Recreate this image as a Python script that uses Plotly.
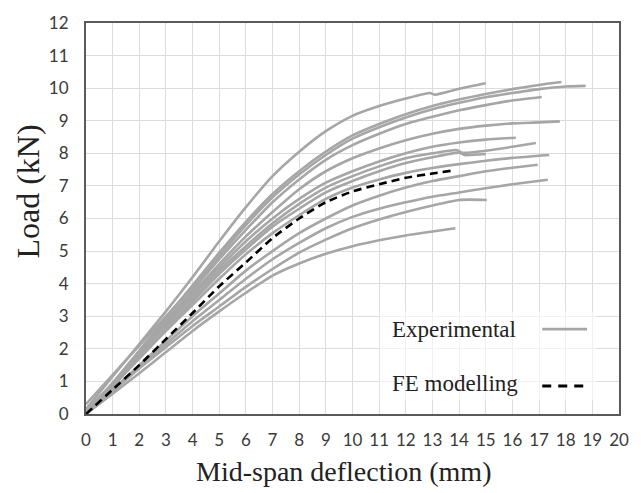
import plotly.graph_objects as go

# ---------------- data ----------------
exp_e1_x = [0, 1, 2, 3, 4, 5, 6, 7, 8, 9, 10, 11, 12, 12.9, 13.1, 14, 15]
exp_e1_y = [0.15, 1.15, 2.15, 3.15, 4.2, 5.3, 6.35, 7.3, 8.05, 8.68, 9.15, 9.45, 9.68, 9.85, 9.8, 9.98, 10.15]

exp_e2_x = [0, 1, 2, 3, 4, 5, 6, 7, 8, 9, 10, 11, 12, 13, 14, 15, 16, 17, 17.84]
exp_e2_y = [0, 0.95, 1.95, 2.95, 3.95, 4.95, 5.9, 6.75, 7.45, 8.05, 8.55, 8.9, 9.2, 9.45, 9.65, 9.82, 9.97, 10.1, 10.19]

exp_e3_x = [0, 1, 2, 3, 4, 5, 6, 7, 8, 9, 10, 11, 12, 13, 14, 15, 16, 17, 18, 18.75]
exp_e3_y = [0.3, 1.2, 2.1, 3.0, 3.9, 4.85, 5.8, 6.65, 7.35, 7.95, 8.45, 8.8, 9.1, 9.35, 9.55, 9.72, 9.85, 9.97, 10.05, 10.07]

exp_e4_x = [0, 1, 2, 3, 4, 5, 6, 7, 8, 9, 10, 11, 12, 13, 14, 15, 16, 17.1]
exp_e4_y = [0, 0.95, 1.9, 2.85, 3.8, 4.75, 5.65, 6.5, 7.2, 7.8, 8.25, 8.6, 8.9, 9.12, 9.32, 9.48, 9.62, 9.73]

exp_e5_x = [0, 1, 2, 3, 4, 5, 6, 7, 8, 9, 10, 11, 12, 13, 14, 15, 16, 17, 17.78]
exp_e5_y = [0, 0.9, 1.85, 2.8, 3.7, 4.6, 5.45, 6.2, 6.9, 7.45, 7.85, 8.15, 8.4, 8.6, 8.75, 8.85, 8.92, 8.95, 8.98]

exp_e6_x = [0, 1, 2, 3, 4, 5, 6, 7, 8, 9, 10, 11, 12, 13, 14, 15, 16.13]
exp_e6_y = [0, 0.9, 1.8, 2.75, 3.65, 4.5, 5.3, 6.0, 6.6, 7.1, 7.45, 7.75, 8.0, 8.2, 8.33, 8.42, 8.48]

exp_e7_x = [0, 1, 2, 3, 4, 5, 6, 7, 8, 9, 10, 11, 12, 13, 13.9, 14.1, 15, 16, 16.88]
exp_e7_y = [0.1, 0.95, 1.85, 2.7, 3.55, 4.4, 5.15, 5.85, 6.45, 6.95, 7.3, 7.6, 7.85, 8.0, 8.1, 8.02, 8.08, 8.2, 8.32]

exp_e8_x = [0, 1, 2, 3, 4, 5, 6, 7, 8, 9, 10, 11, 12, 13, 14, 14.2, 15]
exp_e8_y = [0, 0.85, 1.75, 2.6, 3.45, 4.3, 5.05, 5.75, 6.3, 6.8, 7.15, 7.45, 7.7, 7.88, 8.02, 7.95, 7.98]

exp_e9_x = [0, 1, 2, 3, 4, 5, 6, 7, 8, 9, 10, 11, 12, 13, 14, 15, 16, 17.38]
exp_e9_y = [0, 0.85, 1.7, 2.55, 3.35, 4.15, 4.9, 5.55, 6.1, 6.6, 6.95, 7.2, 7.4, 7.55, 7.67, 7.77, 7.86, 7.95]

exp_e10_x = [0, 1, 2, 3, 4, 5, 6, 7, 8, 9, 10, 11, 12, 13, 14, 15, 16, 16.95]
exp_e10_y = [0, 0.75, 1.5, 2.25, 3.0, 3.7, 4.4, 5.0, 5.55, 6.0, 6.4, 6.7, 6.95, 7.15, 7.3, 7.45, 7.56, 7.65]

exp_e11_x = [0, 1, 2, 3, 4, 5, 6, 7, 8, 9, 10, 11, 12, 13, 14, 15, 16, 17.33]
exp_e11_y = [0, 0.72, 1.45, 2.15, 2.85, 3.5, 4.15, 4.75, 5.25, 5.7, 6.05, 6.3, 6.5, 6.67, 6.8, 6.93, 7.05, 7.19]

exp_e12_x = [0, 1, 2, 3, 4, 5, 6, 7, 8, 9, 10, 11, 12, 13, 14, 15.04]
exp_e12_y = [0, 0.7, 1.4, 2.05, 2.7, 3.3, 3.9, 4.45, 4.95, 5.35, 5.7, 5.97, 6.2, 6.4, 6.57, 6.57]

exp_e13_x = [0, 1, 2, 3, 4, 5, 6, 7, 8, 9, 10, 11, 12, 13, 13.86]
exp_e13_y = [0, 0.62, 1.25, 1.9, 2.55, 3.15, 3.72, 4.25, 4.62, 4.92, 5.15, 5.33, 5.48, 5.6, 5.7]

fe_x = [0, 1, 2, 3, 4, 5, 6, 7, 8, 9, 10, 11, 12, 13, 13.76]
fe_y = [0, 0.75, 1.5, 2.3, 3.1, 3.92, 4.65, 5.4, 6.0, 6.5, 6.83, 7.05, 7.25, 7.38, 7.47]

experimental = [
    (exp_e1_x, exp_e1_y), (exp_e2_x, exp_e2_y), (exp_e3_x, exp_e3_y),
    (exp_e4_x, exp_e4_y), (exp_e5_x, exp_e5_y), (exp_e6_x, exp_e6_y),
    (exp_e7_x, exp_e7_y), (exp_e8_x, exp_e8_y), (exp_e9_x, exp_e9_y),
    (exp_e10_x, exp_e10_y), (exp_e11_x, exp_e11_y), (exp_e12_x, exp_e12_y),
    (exp_e13_x, exp_e13_y),
]

x_ticks = list(range(0, 21))
y_ticks = list(range(0, 13))

legend_labels = ["Experimental", "FE modelling"]
x_title = "Mid-span deflection (mm)"
y_title = "Load (kN)"

# ---------------- figure ----------------
GRAY = "#a6a6a6"
fig = go.Figure()
for xs, ys in experimental:
    fig.add_trace(go.Scatter(x=xs, y=ys, mode="lines", showlegend=False,
                             line=dict(color=GRAY, width=2.6, shape="spline", smoothing=0.6)))
fig.add_trace(go.Scatter(x=fe_x, y=fe_y, mode="lines", showlegend=False,
                         line=dict(color="#000000", width=2.6, dash="8px,5px",
                                   shape="spline", smoothing=0.6)))

tickfont = dict(family="Lato, Open Sans, sans-serif", size=17, color="#3a3a3a")
axis_common = dict(showgrid=True, gridcolor="#dcdcdc", gridwidth=1.2,
                   showline=True, linecolor="#5a5a5a", linewidth=2, mirror=True,
                   zeroline=False, ticks="", tickfont=tickfont)

fig.update_layout(
    width=641, height=493,
    margin=dict(l=86, r=21, t=18, b=79),
    paper_bgcolor="white", plot_bgcolor="white",
    xaxis=dict(range=[0, 20], tickvals=x_ticks, ticktext=[str(v) for v in x_ticks],
               ticklabelstandoff=10, **axis_common),
    yaxis=dict(range=[0, 12], tickvals=y_ticks, ticktext=[str(v) for v in y_ticks],
               ticklabelstandoff=12, **axis_common),
)

serif = "Liberation Serif, Times New Roman, serif"
# axis titles
fig.add_annotation(text=x_title, xref="paper", yref="paper", x=0.483, y=-0.147,
                   xanchor="center", yanchor="middle", showarrow=False,
                   font=dict(family=serif, size=28, color="#222222"))
fig.add_annotation(text=y_title, xref="paper", yref="paper", x=-0.108, y=0.57,
                   xanchor="center", yanchor="middle", showarrow=False, textangle=-90,
                   font=dict(family=serif, size=32, color="#222222"))

# custom legend (text left, sample right)
fig.add_shape(type="rect", xref="paper", yref="paper", x0=0.551, x1=0.957, y0=0.035, y1=0.262,
              fillcolor="rgba(255,255,255,0.6)", line=dict(width=0), layer="above")
fig.add_annotation(text=legend_labels[0], xref="paper", yref="paper", x=0.571, y=0.217,
                   xanchor="left", yanchor="middle", showarrow=False,
                   font=dict(family=serif, size=23, color="#222222"))
fig.add_annotation(text=legend_labels[1], xref="paper", yref="paper", x=0.571, y=0.078,
                   xanchor="left", yanchor="middle", showarrow=False,
                   font=dict(family=serif, size=23, color="#222222"))
fig.add_shape(type="line", xref="paper", yref="paper", x0=0.856, x1=0.940, y0=0.217, y1=0.217,
              line=dict(color=GRAY, width=2.6), layer="above")
fig.add_shape(type="line", xref="paper", yref="paper", x0=0.856, x1=0.940, y0=0.0715, y1=0.0715,
              line=dict(color="#000000", width=3, dash="9px,7px"), layer="above")

fig.write_html("out.html")
